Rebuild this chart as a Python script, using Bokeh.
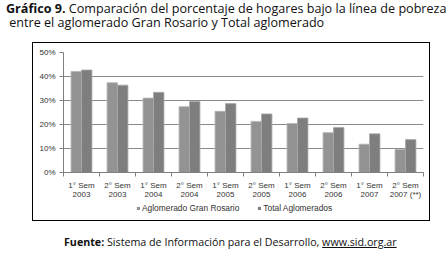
from bokeh.plotting import figure
from bokeh.models import FixedTicker, Legend, LegendItem, Range1d, Div
from bokeh.layouts import column
from bokeh.embed import file_html
from bokeh.resources import INLINE

periods = ["1° Sem\n2003", "2° Sem\n2003", "1° Sem\n2004", "2° Sem\n2004", "1° Sem\n2005",
           "2° Sem\n2005", "1° Sem\n2006", "2° Sem\n2006", "1° Sem\n2007", "2° Sem\n2007 (**)"]
gran_rosario = [42.1, 37.4, 31.0, 27.4, 25.5, 21.3, 20.4, 16.6, 11.8, 9.6]
total_aglom = [42.7, 36.4, 33.4, 29.6, 28.7, 24.4, 22.7, 18.8, 16.1, 13.7]
y_ticks = [0, 10, 20, 30, 40, 50]
y_tick_labels = ["0%", "10%", "20%", "30%", "40%", "50%"]
series_names = ["Aglomerado Gran Rosario", "Total Aglomerados"]
series_colors = ["#939393", "#7e7e7e"]
title_bold = "Gráfico 9."
title_line1 = "Comparación del porcentaje de hogares bajo la línea de pobreza"
title_line2 = "entre el aglomerado Gran Rosario y Total aglomerado"
source_bold = "Fuente:"
source_text = "Sistema de Información para el Desarrollo,"
source_url = "www.sid.org.ar"

# geometry (page pixels)
BL, BR, BT, BB = 33, 429, 43, 220
FL, FR, FT, FB = 63, 423, 52, 172
LEG_H = 18

p = figure(width=BR - BL, height=BB - BT - LEG_H, output_backend="svg", toolbar_location=None,
           x_range=Range1d(0, len(periods)), y_range=Range1d(0, 50),
           min_border_left=FL - BL, min_border_right=BR - FR,
           min_border_top=FT - BT, min_border_bottom=BB - LEG_H - FB, margin=0)
p.outline_line_color = None
p.border_fill_alpha = 0

centers = [i + 0.5 for i in range(len(periods))]
bw = 0.29
p.vbar(x=[c - bw / 2 for c in centers], top=gran_rosario, width=bw,
       fill_color=series_colors[0], line_color="#b4b4b4", line_width=0.8)
p.vbar(x=[c + bw / 2 for c in centers], top=total_aglom, width=bw,
       fill_color=series_colors[1], line_color="#a8a8a8", line_width=0.8)

p.xaxis.ticker = FixedTicker(ticks=centers, minor_ticks=list(range(len(periods) + 1)))
p.xaxis.major_label_overrides = {c: lab for c, lab in zip(centers, periods)}
p.xaxis.major_tick_out = 0
p.xaxis.major_tick_in = 0
p.xaxis.minor_tick_out = 4
p.xaxis.minor_tick_in = 0
p.xaxis.minor_tick_line_color = "#808080"
p.xaxis.axis_line_color = "#808080"
p.xaxis.major_label_standoff = 4
p.xaxis.major_label_text_font = "Liberation Sans"
p.xaxis.major_label_text_font_size = "8px"
p.xaxis.major_label_text_color = "#333333"
p.xaxis.major_label_text_line_height = 1.1
p.xgrid.grid_line_color = None

p.yaxis.ticker = FixedTicker(ticks=y_ticks)
p.yaxis.major_label_overrides = {t: l for t, l in zip(y_ticks, y_tick_labels)}
p.yaxis.major_tick_out = 4
p.yaxis.major_tick_in = 0
p.yaxis.minor_tick_line_color = None
p.yaxis.major_tick_line_color = "#808080"
p.yaxis.axis_line_color = "#808080"
p.yaxis.major_label_standoff = 4
p.yaxis.major_label_text_font = "Liberation Sans"
p.yaxis.major_label_text_font_size = "8px"
p.yaxis.major_label_text_color = "#333333"
p.ygrid.grid_line_color = "#8a8a8a"

# legend strip (own small figure so nothing is clipped)
lg = figure(width=BR - BL, height=LEG_H, output_backend="svg", toolbar_location=None,
            x_range=Range1d(0, 1), y_range=Range1d(0, 1), x_axis_type=None, y_axis_type=None,
            min_border=0, margin=0)
lg.outline_line_color = None
lg.grid.visible = False
lg.border_fill_alpha = 0
lg.background_fill_alpha = 0
items = []
for name, col in zip(series_names, series_colors):
    # placeholder renderer outside the visible range, only used for the legend swatch
    r = lg.vbar(x=[-5], top=[-5], width=0.1, fill_color=col, line_color=None)
    items.append(LegendItem(label=name, renderers=[r]))
legend = Legend(items=items, orientation="horizontal", location=(73, 7),
                glyph_width=4, glyph_height=4, label_standoff=2, spacing=18,
                padding=0, margin=0, border_line_color=None, background_fill_alpha=0,
                label_text_font="Liberation Sans", label_text_font_size="8.4px",
                label_text_color="#333333", label_height=8)
lg.add_layout(legend, "center")

box = column(p, lg, spacing=0, margin=(0, 0, 0, BL),
             styles={"outline": "1.5px solid black", "outline-offset": "0px"})

title_div = Div(
    text=(f'<div style="font-family:\'Open Sans\';font-size:12.6px;line-height:13.5px;color:#111;'
          f'white-space:nowrap;padding:2px 0 0 6px;">'
          f'<b>{title_bold}</b> {title_line1}<br>&nbsp;{title_line2}</div>'),
    width=447, height=BT, margin=0)
source_div = Div(
    text=(f'<div style="font-family:\'Open Sans\';font-size:10.7px;line-height:13px;color:#111;'
          f'white-space:nowrap;padding:16px 0 0 64px;">'
          f'<b>{source_bold}</b> {source_text} <u>{source_url}</u></div>'),
    width=447, height=254 - BB, margin=0)

layout = column(title_div, box, source_div, spacing=0, margin=0)

open("out.html", "w").write(file_html(layout, INLINE))
